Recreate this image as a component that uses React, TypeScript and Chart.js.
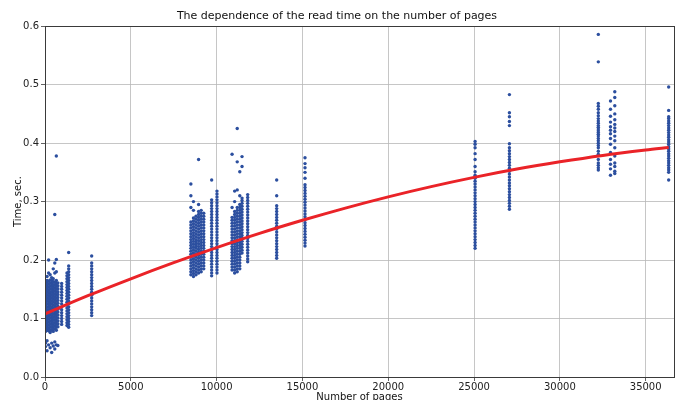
import { useEffect, useRef } from "react";
import { Chart, registerables } from "chart.js";

Chart.register(...registerables);

// Page counts (x) of each vertical column of measurements
const pageCounts = [
  30, 120, 210, 300, 390, 480, 570, 660, 750, 970, 1280, 1380, 2720,
  8500, 8650, 8800, 8950, 9100, 9250, 9710, 10020,
  10900, 11050, 11200, 11350, 11480, 11810,
  13500, 15150, 25060, 27060, 32240, 32950, 33200, 36340,
];

// Read times in milliseconds for each page count above
const readTimesMs = [
  [52, 58, 78, 83, 88, 93, 98, 103, 108, 113, 118, 123, 128, 133, 138, 143, 148, 153, 158, 163],
  [45, 62, 80, 85, 90, 95, 100, 105, 110, 115, 120, 125, 130, 135, 140, 145, 150, 155, 160, 165, 172],
  [55, 79, 84, 89, 94, 99, 104, 109, 114, 119, 124, 129, 134, 139, 144, 149, 154, 159, 164, 178, 200],
  [50, 76, 81, 86, 91, 96, 101, 106, 111, 116, 121, 126, 131, 136, 141, 146, 151, 156, 161, 166, 175],
  [42, 58, 80, 85, 90, 95, 100, 105, 110, 115, 120, 125, 130, 135, 140, 145, 150, 155, 160, 165, 170],
  [53, 78, 83, 88, 93, 98, 103, 108, 113, 118, 123, 128, 133, 138, 143, 148, 153, 158, 163, 168, 185],
  [48, 60, 82, 87, 92, 97, 102, 107, 112, 117, 122, 127, 132, 137, 142, 147, 152, 157, 162, 178, 195, 278],
  [55, 80, 85, 90, 95, 100, 105, 110, 115, 120, 125, 130, 135, 140, 145, 150, 155, 160, 165, 180, 201, 378],
  [54, 86, 91, 96, 101, 106, 111, 116, 121, 126, 131, 136, 141, 146, 151, 156, 161],
  [90, 95, 100, 105, 110, 115, 120, 125, 130, 135, 140, 145, 150, 155, 160],
  [88, 93, 98, 103, 108, 113, 118, 123, 128, 133, 138, 143, 148, 153, 158, 163, 168, 173, 178],
  [85, 90, 95, 100, 105, 110, 115, 120, 125, 130, 135, 140, 145, 150, 155, 160, 165, 170, 175, 180, 185, 190, 213],
  [105, 110, 115, 120, 125, 130, 135, 140, 145, 150, 155, 160, 165, 170, 175, 180, 185, 190, 195, 207],
  [175, 180, 185, 190, 195, 200, 205, 210, 215, 220, 225, 230, 235, 240, 245, 250, 255, 260, 265, 290, 310, 330],
  [172, 177, 182, 187, 192, 197, 202, 207, 212, 217, 222, 227, 232, 237, 242, 247, 252, 257, 262, 267, 272, 285, 300],
  [175, 180, 185, 190, 195, 200, 205, 210, 215, 220, 225, 230, 235, 240, 245, 250, 255, 260, 265, 270, 275],
  [178, 183, 188, 193, 198, 203, 208, 213, 218, 223, 228, 233, 238, 243, 248, 253, 258, 263, 268, 273, 278, 283, 295, 372],
  [180, 185, 190, 195, 200, 205, 210, 215, 220, 225, 230, 235, 240, 245, 250, 255, 260, 265, 270, 275, 280, 285],
  [185, 190, 195, 200, 205, 210, 215, 220, 225, 230, 235, 240, 245, 250, 255, 260, 265, 270, 275, 280],
  [173, 178, 183, 188, 193, 198, 203, 208, 213, 218, 223, 228, 233, 238, 243, 248, 253, 258, 263, 268, 273, 278, 283, 288, 293, 298, 303, 337],
  [178, 183, 188, 193, 198, 203, 208, 213, 218, 223, 228, 233, 238, 243, 248, 253, 258, 263, 268, 273, 278, 283, 288, 293, 298, 303, 308, 313, 318],
  [183, 188, 193, 198, 203, 208, 213, 218, 223, 228, 233, 238, 243, 248, 253, 258, 263, 268, 273, 290, 381],
  [178, 183, 188, 193, 198, 203, 208, 213, 218, 223, 228, 233, 238, 243, 248, 253, 258, 263, 268, 273, 278, 283, 300, 318],
  [180, 185, 190, 195, 200, 205, 210, 215, 220, 225, 230, 235, 240, 245, 250, 255, 260, 265, 270, 275, 280, 285, 290, 320, 368, 425],
  [185, 190, 195, 200, 205, 210, 215, 220, 225, 230, 235, 240, 245, 250, 255, 260, 265, 270, 275, 280, 285, 290, 295, 310, 351],
  [212, 217, 222, 227, 232, 237, 242, 247, 252, 257, 262, 267, 272, 277, 282, 287, 292, 297, 302, 306, 360, 377],
  [197, 202, 207, 212, 217, 222, 227, 232, 237, 242, 247, 252, 257, 262, 267, 272, 277, 282, 287, 292, 297, 302, 307, 312],
  [203, 208, 213, 218, 223, 228, 233, 238, 243, 248, 253, 258, 263, 268, 273, 278, 283, 288, 293, 310, 337],
  [224, 229, 234, 239, 244, 249, 254, 259, 264, 269, 274, 279, 284, 289, 294, 299, 304, 309, 314, 319, 324, 329, 340, 350, 358, 365, 375],
  [220, 225, 230, 235, 240, 245, 250, 255, 260, 265, 270, 275, 280, 285, 290, 295, 300, 305, 310, 315, 320, 325, 330, 335, 340, 345, 351, 360, 372, 382, 392, 398, 403],
  [287, 292, 297, 302, 307, 312, 317, 322, 327, 332, 337, 342, 347, 352, 357, 362, 367, 372, 377, 382, 387, 392, 399, 430, 437, 445, 452, 483],
  [354, 358, 362, 366, 372, 381, 386, 392, 396, 400, 404, 408, 412, 415, 418, 421, 424, 427, 430, 434, 438, 442, 447, 452, 458, 463, 468, 539, 586],
  [345, 356, 364, 372, 384, 398, 408, 416, 422, 428, 436, 446, 458, 472],
  [348, 352, 360, 366, 378, 392, 404, 412, 420, 426, 432, 440, 450, 464, 478, 488],
  [337, 350, 354, 358, 362, 366, 370, 374, 378, 382, 386, 390, 394, 398, 402, 406, 410, 414, 418, 422, 426, 430, 434, 438, 442, 445, 456, 496],
];

// Fitted trend curve
const fitPages = [0, 2500, 5000, 7500, 10000, 12500, 15000, 17500, 20000, 22500, 25000, 27500, 30000, 32500, 35000, 36340];
const fitTimes = [0.108, 0.139, 0.168, 0.1955, 0.2213, 0.2456, 0.268, 0.2889, 0.3081, 0.3256, 0.3414, 0.3556, 0.368, 0.379, 0.3882, 0.3924];

// Axis ticks
const xTicks = [0, 5000, 10000, 15000, 20000, 25000, 30000, 35000];
const yTicks = [0, 0.1, 0.2, 0.3, 0.4, 0.5, 0.6];

const xMin = 0;
const xMax = 36650;
const yMin = 0;
const yMax = 0.6;

const FONT = "'DejaVu Sans', sans-serif";

const framePlugin = {
  id: "frame",
  afterDraw(chart: any) {
    const { ctx, chartArea } = chart;
    const { left, top, right, bottom } = chartArea;
    ctx.save();
    ctx.strokeStyle = "#3a3a3a";
    ctx.lineWidth = 1;
    ctx.strokeRect(Math.round(left) + 0.5, Math.round(top) + 0.5, Math.round(right - left), Math.round(bottom - top));
    ctx.restore();
  },
};

export default function App() {
  const ref = useRef<HTMLCanvasElement | null>(null);

  useEffect(() => {
    document.body.style.margin = "0";
    const canvas = ref.current;
    if (!canvas) return;

    const points = pageCounts.flatMap((p, i) => readTimesMs[i].map((t) => ({ x: p, y: t / 1000 })));
    const fit = fitPages.map((p, i) => ({ x: p, y: fitTimes[i] }));

    const chart = new Chart(canvas, {
      type: "scatter",
      data: {
        datasets: [
          {
            label: "fit",
            data: fit,
            showLine: true,
            borderColor: "#ea2328",
            borderWidth: 3,
            pointRadius: 0,
            tension: 0.3,
            order: 0,
          } as any,
          {
            label: "measurements",
            data: points,
            backgroundColor: "#2c4f9f",
            borderWidth: 0,
            pointRadius: 1.7,
            order: 1,
          },
        ],
      },
      plugins: [framePlugin],
      options: {
        animation: false,
        responsive: false,
        maintainAspectRatio: false,
        layout: { padding: { left: 0, right: 8, top: 0, bottom: 0 } },
        plugins: {
          legend: { display: false },
          tooltip: { enabled: false },
          title: {
            display: true,
            text: "The dependence of the read time on the number of pages",
            color: "#111",
            font: { family: FONT, size: 11, weight: "normal" },
            padding: { top: 10, bottom: 3 },
          },
        },
        scales: {
          x: {
            type: "linear",
            min: xMin,
            max: xMax,
            afterFit: (s: any) => {
              s.height = 23;
            },
            afterBuildTicks: (s: any) => {
              s.ticks = xTicks.map((v) => ({ value: v }));
            },
            ticks: {
              maxRotation: 0,
              autoSkip: false,
              color: "#222",
              font: { family: FONT, size: 10 },
              padding: 0,
              callback: (v: any) => String(v),
            },
            grid: { color: "#b8b8b8", lineWidth: 0.8, tickColor: "#3a3a3a", tickLength: 4 },
            border: { color: "#3a3a3a", width: 1 },
            title: {
              display: true,
              text: "Number of pages",
              color: "#111",
              font: { family: FONT, size: 10 },
              padding: { top: 0, bottom: -3 },
            },
          },
          y: {
            type: "linear",
            min: yMin,
            max: yMax,
            afterFit: (s: any) => {
              s.width = 45;
            },
            afterBuildTicks: (s: any) => {
              s.ticks = yTicks.map((v) => ({ value: v }));
            },
            ticks: {
              autoSkip: false,
              color: "#222",
              font: { family: FONT, size: 10 },
              padding: 2,
              callback: (v: any) => Number(v).toFixed(1),
            },
            grid: { color: "#b8b8b8", lineWidth: 0.8, tickColor: "#3a3a3a", tickLength: 4 },
            border: { color: "#3a3a3a", width: 1 },
            title: {
              display: true,
              text: "Time, sec.",
              color: "#111",
              font: { family: FONT, size: 10 },
              padding: { top: 12, bottom: 0 },
            },
          },
        },
      },
    });

    return () => chart.destroy();
  }, []);

  return (
    <div style={{ width: 682, height: 400 }}>
      <canvas ref={ref} width={682} height={400} style={{ display: "block" }} />
    </div>
  );
}
